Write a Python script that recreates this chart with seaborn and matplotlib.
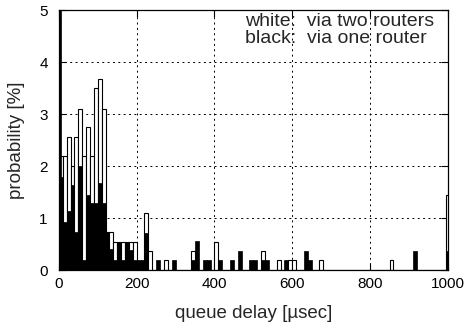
import numpy as np
import pandas as pd
import matplotlib
matplotlib.use("Agg")
import matplotlib.pyplot as plt
import seaborn as sns

# ---- data (probability in %, 10 usec bins; bin_start = lower edge) ----
bin_start = list(range(0, 1000, 10))
white_vals = [0.0] * 100
black_vals = [0.0] * 100

white_dense = [2.2, 2.2, 2.57, 2.0, 2.57, 3.1, 2.2, 2.75, 2.2, 3.5,
               3.67, 3.1, 0.74, 0.74, 0.55, 0.55, 0.55, 0.55, 0.55, 0.55]
black_dense = [1.8, 0.93, 1.13, 1.64, 0.74, 2.0, 0.2, 1.45, 1.3, 1.3,
               1.68, 1.3, 0.74, 0.4, 0.2, 0.55, 0.2, 0.55, 0.39, 0.2]
for i, (w, b) in enumerate(zip(white_dense, black_dense)):
    white_vals[i] = w
    black_vals[i] = b

white_sparse = {22: 1.1, 23: 0.37, 27: 0.2, 34: 0.37, 40: 0.55, 52: 0.37,
                56: 0.2, 59: 0.2, 60: 0.2, 67: 0.2, 85: 0.2}
black_sparse = {20: 0.2, 21: 0.2, 22: 0.72, 25: 0.2, 29: 0.2, 34: 0.2,
                35: 0.56, 37: 0.2, 38: 0.2, 41: 0.2, 44: 0.2, 46: 0.37,
                49: 0.2, 50: 0.2, 52: 0.2, 53: 0.2, 58: 0.2, 63: 0.37,
                64: 0.2, 91: 0.37}
for k, v in white_sparse.items():
    white_vals[k] = v
for k, v in black_sparse.items():
    black_vals[k] = v

# zero-delay spike and overflow bin at 1000 usec
spike_delay = [0]
spike_black = [6.0]
overflow_delay = [1000]
overflow_white = [1.45]
overflow_black = [0.37]

x_ticks = [0, 200, 400, 600, 800, 1000]
y_ticks = [0, 1, 2, 3, 4, 5]
legend_lines = ["white:  via two routers", "black:  via one router"]

# ---- plotting ----
sns.set_style("ticks")
plt.rcParams['font.family'] = ['Liberation Sans', 'DejaVu Sans']

fig = plt.figure(figsize=(4.67, 3.32), dpi=100)
ax = fig.add_axes([0.126, 0.186, 0.833, 0.783])

df = pd.DataFrame({"delay": np.array(bin_start) + 5,
                   "white": white_vals, "black": black_vals})

ax.grid(True, color='black', linestyle=(0, (2, 3.5)), linewidth=0.7)
ax.set_axisbelow(True)

common = dict(native_scale=True, errorbar=None, saturation=1, ax=ax)
sns.barplot(data=df, x="delay", y="white", width=1.0, color="white",
            edgecolor="black", linewidth=0.8, **common)
sns.barplot(data=df, x="delay", y="black", width=1.0, color="black",
            edgecolor="black", linewidth=0.5, **common)

spike_df = pd.DataFrame({"delay": spike_delay, "black": spike_black})
over_df = pd.DataFrame({"delay": overflow_delay, "white": overflow_white,
                        "black": overflow_black})
sns.barplot(data=spike_df, x="delay", y="black", width=10, color="black",
            edgecolor="black", linewidth=0.5, **common)
sns.barplot(data=over_df, x="delay", y="white", width=10, color="white",
            edgecolor="black", linewidth=0.8, **common)
sns.barplot(data=over_df, x="delay", y="black", width=10, color="black",
            edgecolor="black", linewidth=0.5, **common)

ax.set_xlim(0, 1000)
ax.set_ylim(0, 5)
ax.set_xticks(x_ticks)
ax.set_xticklabels([str(t) for t in x_ticks])
ax.set_yticks(y_ticks)
ax.set_yticklabels([str(t) for t in y_ticks])
ax.tick_params(direction='in', top=True, right=True, length=5, width=0.8,
               labelsize=11, colors='black')
ax.tick_params(axis='y', pad=8)
ax.tick_params(axis='x', pad=5)
for s in ax.spines.values():
    s.set_color('black')
    s.set_linewidth(0.9)
    s.set_zorder(5)

ax.set_xlabel("queue delay [\u00b5sec]", fontsize=13.5, labelpad=10)
ax.set_ylabel("probability [%]", fontsize=13.5, labelpad=10)

ax.text(0.478, 0.956, legend_lines[0], transform=ax.transAxes,
        ha='left', va='center', fontsize=14)
ax.text(0.478, 0.892, legend_lines[1], transform=ax.transAxes,
        ha='left', va='center', fontsize=14)

fig.savefig("out.png", dpi=100)
